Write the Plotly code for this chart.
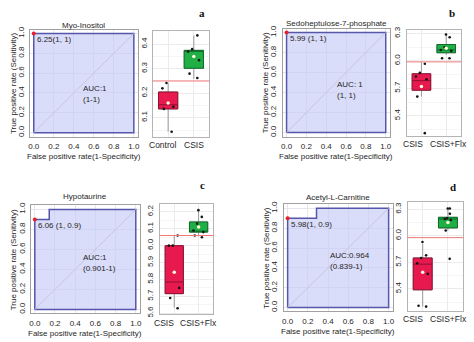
import plotly.graph_objects as go

W, H = 474, 342

# ---- data -------------------------------------------------------------
panel_letters = ["a", "b", "c", "d"]
metabolites = ["Myo-Inositol", "Sedoheptulose-7-phosphate", "Hypotaurine", "Acetyl-L-Carnitine"]

groups_a = ["Control", "CSIS"]
groups_bcd = ["CSIS", "CSIS+Flx"]

# ROC curves (false positive rate, true positive rate)
roc_fpr_a = [0, 0, 1]
roc_tpr_a = [0, 1, 1]
roc_fpr_b = [0, 0, 1]
roc_tpr_b = [0, 1, 1]
roc_fpr_c = [0, 0, 0.143, 0.143, 1]
roc_tpr_c = [0, 0.9, 0.9, 1, 1]
roc_fpr_d = [0, 0, 0.286, 0.286, 1]
roc_tpr_d = [0, 0.9, 0.9, 1, 1]

# best threshold: cutoff, specificity, sensitivity
cutoffs = [6.25, 5.99, 6.06, 5.98]
thr_spec = [1, 1, 1, 1]
thr_sens = [1, 1, 0.9, 0.9]
thr_labels = ["6.25(1, 1)", "5.99 (1, 1)", "6.06 (1, 0.9)", "5.98(1, 0.9)"]
auc_labels = ["AUC:1", "AUC: 1", "AUC:1", "AUC:0.964"]
ci_labels = ["(1-1)", "(1, 1)", "(0.901-1)", "(0.839-1)"]

# box statistics per group: [group1, group2]
box_lower_a = [6.043, 6.258]
box_q1_a = [6.136, 6.302]
box_median_a = [6.153, 6.371]
box_q3_a = [6.205, 6.375]
box_upper_a = [6.242, 6.436]
box_mean_a = [6.160, 6.350]
points_a_g1 = [6.242, 6.220, 6.145, 6.136, 6.043]
points_a_g2 = [6.436, 6.380, 6.370, 6.335, 6.280, 6.262]

box_lower_b = [5.61, 6.065]
box_q1_b = [5.68, 6.09]
box_median_b = [5.785, 6.12]
box_q3_b = [5.86, 6.18]
box_upper_b = [5.99, 6.29]
box_mean_b = [5.72, 6.14]
points_b_g1 = [5.97, 5.87, 5.83, 5.80, 5.61, 5.21]
points_b_g2 = [6.29, 6.26, 6.15, 6.12, 6.11, 6.03, 6.03]

box_lower_c = [5.634, 6.055]
box_q1_c = [5.716, 6.08]
box_median_c = [5.785, 6.085]
box_q3_c = [6.0, 6.14]
box_upper_c = [6.06, 6.21]
box_mean_c = [5.843, 6.11]
points_c_g1 = [6.06, 6.0, 6.0, 5.75, 5.69, 5.63]
points_c_g2 = [6.21, 6.17, 6.13, 6.09, 6.08, 6.06, 6.05]

box_lower_d = [5.20, 6.06]
box_q1_d = [5.39, 6.09]
box_median_d = [5.68, 6.19]
box_q3_d = [5.75, 6.21]
box_upper_d = [5.91, 6.31]
box_mean_d = [5.59, 6.15]
points_d_g1 = [5.93, 5.78, 5.75, 5.69, 5.57, 5.21, 5.20]
points_d_g2 = [6.31, 6.31, 6.25, 6.20, 6.19, 6.18, 6.06, 5.74]

box_y_ranges = [[6.023, 6.452], [5.183, 6.344], [5.593, 6.244], [5.156, 6.378]]
box_y_dticks = [0.1, 0.3, 0.1, 0.3]

# ---- assemble per-panel structures ------------------------------------
rocs = [(roc_fpr_a, roc_tpr_a), (roc_fpr_b, roc_tpr_b),
        (roc_fpr_c, roc_tpr_c), (roc_fpr_d, roc_tpr_d)]
groups = [groups_a, groups_bcd, groups_bcd, groups_bcd]
stats = [
    (box_lower_a, box_q1_a, box_median_a, box_q3_a, box_upper_a, box_mean_a, [points_a_g1, points_a_g2]),
    (box_lower_b, box_q1_b, box_median_b, box_q3_b, box_upper_b, box_mean_b, [points_b_g1, points_b_g2]),
    (box_lower_c, box_q1_c, box_median_c, box_q3_c, box_upper_c, box_mean_c, [points_c_g1, points_c_g2]),
    (box_lower_d, box_q1_d, box_median_d, box_q3_d, box_upper_d, box_mean_d, [points_d_g1, points_d_g2]),
]

# pixel frames: left, right, top, bottom
roc_frames = [(28, 137, 27, 136), (283, 391, 26, 136), (29, 139, 206, 316), (284, 394, 205, 314)]
box_frames = [(152, 209, 29, 136), (408, 463, 27, 135), (159, 213, 205, 317), (409, 465, 203, 313)]
title_y = [23, 21, 197, 198]
letter_pos = [(202, 10), (454, 10), (202, 185), (455, 187)]
# x position (px) of the gap between the two group labels under each box panel
group_label_gap = [180.5, 428.5, 176.5, 428]

box_fill = ["#E8194F", "#1FAF45"]
box_edge = ["#8E1030", "#0F6A2A"]

FONT = "Liberation Sans, Arial, sans-serif"
TXT = "#262626"
FS = 8


def fx(p):
    return p / W


def fy(p):
    return 1 - p / H


def ax_name(k, letter):
    return letter if k == 1 else f"{letter}{k}"


def label(text, x, y, xref="paper", yref="paper", xanchor="center", angle=0, font=None):
    return dict(text=text, xref=xref, yref=yref, x=x, y=y, xanchor=xanchor,
                yanchor="middle", textangle=angle, showarrow=False,
                font=font or dict(family=FONT, size=FS, color=TXT))


fig = go.Figure()
annotations = []
shapes = []
layout_axes = {}

for i in range(4):
    kr = 2 * i + 1
    kb = 2 * i + 2
    xr, yr = ax_name(kr, "x"), ax_name(kr, "y")
    xb, yb = ax_name(kb, "x"), ax_name(kb, "y")

    # ---------- ROC panel ----------
    fpr, tpr = rocs[i]
    poly_x = list(fpr) + [fpr[-1], fpr[0]]
    poly_y = list(tpr) + [0, 0]
    fig.add_trace(go.Scatter(
        x=poly_x, y=poly_y, xaxis=xr, yaxis=yr, mode="lines", fill="toself",
        fillcolor="rgba(196,200,246,0.62)", line=dict(color="#5656AA", width=1.5),
        hoverinfo="skip", showlegend=False))
    fig.add_trace(go.Scatter(
        x=[1 - thr_spec[i]], y=[thr_sens[i]], xaxis=xr, yaxis=yr, mode="markers",
        marker=dict(color="#E8202A", size=4), showlegend=False, hoverinfo="skip"))
    shapes.append(dict(type="line", xref=xr, yref=yr, x0=0, y0=0, x1=1, y1=1,
                       line=dict(color="#C6C6DE", width=1)))

    l, r, t, b = roc_frames[i]
    tick_vals = [0, 0.2, 0.4, 0.6, 0.8, 1.0]
    tick_txt = [f"{v:.1f}" for v in tick_vals]
    common = dict(range=[-0.04, 1.04], tickvals=tick_vals, ticktext=tick_txt,
                  showline=True, mirror=True, linecolor="#A0A0A0", linewidth=1,
                  showgrid=True, gridcolor="#E6E6EE", gridwidth=1, zeroline=False,
                  ticks="", tickfont=dict(family=FONT, size=FS, color=TXT),
                  fixedrange=True)
    layout_axes["xaxis" if kr == 1 else f"xaxis{kr}"] = dict(
        domain=[fx(l), fx(r)], anchor=yr, tickangle=0, ticklabelstandoff=2, **common)
    layout_axes["yaxis" if kr == 1 else f"yaxis{kr}"] = dict(
        domain=[fy(b), fy(t)], anchor=xr, tickangle=-90, ticklabelstandoff=2, **common)

    annotations += [
        label(metabolites[i], fx((l + r) / 2), fy(title_y[i])),
        label("False positive rate(1-Specificity)", fx((l + r) / 2), fy(b + 20)),
        label("True positive rate (Senitivity)", fx(l - 17), fy((t + b) / 2), angle=-90),
        label(thr_labels[i], 1 - thr_spec[i] + 0.01, thr_sens[i] - 0.06,
              xref=xr, yref=yr, xanchor="left"),
    ]
    auc_x = [0.475, 0.487, 0.454, 0.395][i]
    auc_y = [0.443, 0.483, 0.517, 0.52][i]
    annotations += [
        label(auc_labels[i], auc_x, auc_y, xref=xr, yref=yr, xanchor="left"),
        label(ci_labels[i], auc_x, auc_y - 0.108, xref=xr, yref=yr, xanchor="left"),
    ]

    # ---------- box panel ----------
    lo, q1, med, q3, hi, mean, pts = stats[i]
    for g in range(2):
        cat = groups[i][g]
        # whiskers
        fig.add_trace(go.Box(
            x=[cat], q1=[q1[g]], median=[med[g]], q3=[q3[g]],
            lowerfence=[lo[g]], upperfence=[hi[g]], xaxis=xb, yaxis=yb,
            width=0.75, whiskerwidth=0, fillcolor="rgba(0,0,0,0)",
            line=dict(color="#9A9A9A", width=1), showlegend=False, hoverinfo="skip"))
        # box body
        fig.add_trace(go.Box(
            x=[cat], q1=[q1[g]], median=[med[g]], q3=[q3[g]],
            lowerfence=[q1[g]], upperfence=[q3[g]], xaxis=xb, yaxis=yb,
            width=0.75, whiskerwidth=0, fillcolor=box_fill[g],
            line=dict(color=box_edge[g], width=1), showlegend=False, hoverinfo="skip"))
        # jittered observations
        fig.add_trace(go.Box(
            x=[cat] * len(pts[g]), y=pts[g], xaxis=xb, yaxis=yb, width=0.75,
            boxpoints="all", jitter=0.7, pointpos=0, fillcolor="rgba(0,0,0,0)",
            line=dict(width=0, color="rgba(0,0,0,0)"),
            marker=dict(color="#151515", size=2.6), showlegend=False, hoverinfo="skip"))
        # group mean
        fig.add_trace(go.Scatter(
            x=[cat], y=[mean[g]], xaxis=xb, yaxis=yb, mode="markers",
            marker=dict(color="#FFFBD8", size=3.5), showlegend=False, hoverinfo="skip"))

    shapes.append(dict(type="line", xref=f"{xb} domain", yref=yb, x0=0, x1=1,
                       y0=cutoffs[i], y1=cutoffs[i], line=dict(color="#F07878", width=1)))

    l, r, t, b = box_frames[i]
    dt = box_y_dticks[i]
    layout_axes["xaxis" if kb == 1 else f"xaxis{kb}"] = dict(
        domain=[fx(l), fx(r)], anchor=yb, type="category", categoryorder="array",
        categoryarray=groups[i], range=[-0.6, 1.6], showgrid=True, gridcolor="#EBEBEB",
        showline=True, mirror=True, linecolor="#B4B4B4", linewidth=1, zeroline=False,
        ticks="", showticklabels=False, fixedrange=True)
    layout_axes["yaxis" if kb == 1 else f"yaxis{kb}"] = dict(
        domain=[fy(b), fy(t)], anchor=xb, range=box_y_ranges[i], dtick=dt, tick0=0,
        tickformat=".1f", tickangle=-90, showgrid=True, gridcolor="#EBEBEB",
        minor=dict(dtick=dt / 2, tick0=0, showgrid=True, gridcolor="#F5F5F5"),
        showline=True, mirror=True, linecolor="#B4B4B4", linewidth=1, zeroline=False,
        ticks="", ticklabelstandoff=2, tickfont=dict(family=FONT, size=FS, color=TXT),
        fixedrange=True)
    gap = group_label_gap[i]
    annotations.append(label(groups[i][0], fx(gap - 1.5), fy(b + 9), xanchor="right",
                             font=dict(family=FONT, size=FS + 0.5, color=TXT)))
    annotations.append(label(groups[i][1], fx(gap + 1.5), fy(b + 9), xanchor="left",
                             font=dict(family=FONT, size=FS + 0.5, color=TXT)))

    lx, ly = letter_pos[i]
    annotations.append(label(f"<b>{panel_letters[i]}</b>", fx(lx), fy(ly),
                             font=dict(family="Liberation Serif, Times New Roman, serif",
                                       size=11, color="#111")))

fig.update_layout(
    width=W, height=H, margin=dict(l=0, r=0, t=0, b=0),
    paper_bgcolor="white", plot_bgcolor="white",
    boxmode="overlay", showlegend=False,
    annotations=annotations, shapes=shapes, **layout_axes)

fig.write_html("out.html", config={"displayModeBar": False})
